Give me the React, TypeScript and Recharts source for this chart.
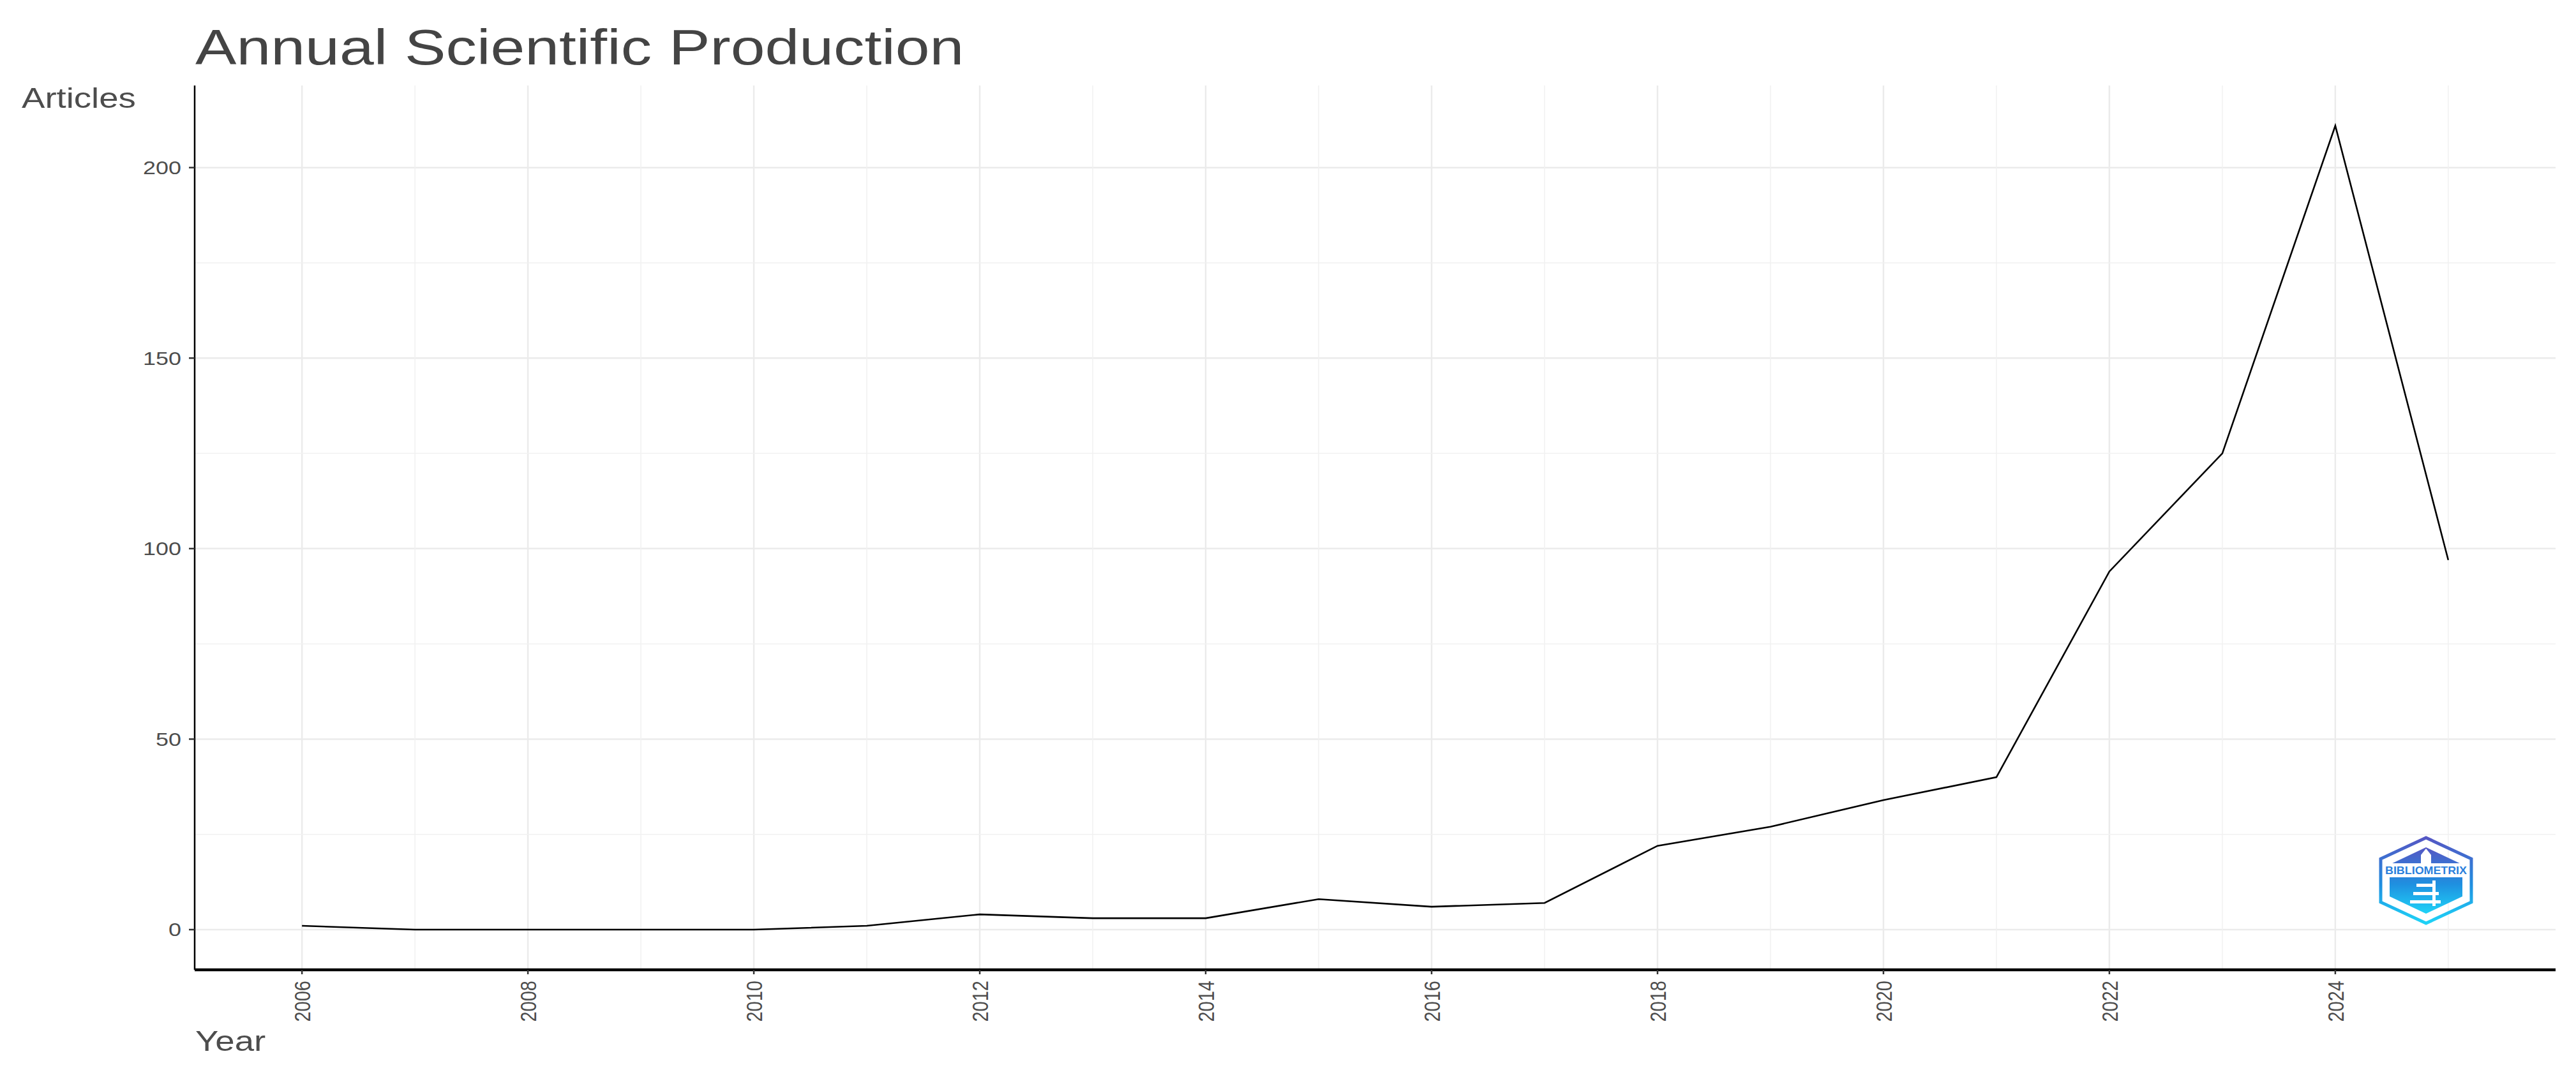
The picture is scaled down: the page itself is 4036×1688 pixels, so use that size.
import { LineChart, Line, XAxis, YAxis, CartesianGrid, ReferenceLine } from "recharts";

const years = [
  2006, 2007, 2008, 2009, 2010, 2011, 2012, 2013, 2014, 2015,
  2016, 2017, 2018, 2019, 2020, 2021, 2022, 2023, 2024, 2025,
];
const articles = [1, 0, 0, 0, 0, 1, 4, 3, 3, 8, 6, 7, 22, 27, 34, 40, 94, 125, 211, 97];

const yearTicks = [2006, 2008, 2010, 2012, 2014, 2016, 2018, 2020, 2022, 2024];
const yearMinor = [2007, 2009, 2011, 2013, 2015, 2017, 2019, 2021, 2023, 2025];
const articleTicks = [0, 50, 100, 150, 200];
const articleMinor = [25, 75, 125, 175];

const data = years.map((year, i) => ({ year, articles: articles[i] }));

const FONT = "'Liberation Sans', Arial, sans-serif";
const STRETCH = 1.24;

// grid lines only at the major ticks, placed through the axis scales
const scaleOf = (axis: any) => {
  const s = axis?.scale;
  if (typeof s === "function") return (v: number) => s(v);
  if (s && typeof s.map === "function") return (v: number) => s.map(v);
  return null;
};

const hGen = ({ yAxis }: any) => {
  const f = scaleOf(yAxis);
  return f ? articleTicks.map((v) => f(v)) : [];
};

const vGen = ({ xAxis }: any) => {
  const f = scaleOf(xAxis);
  return f ? yearTicks.map((v) => f(v)) : [];
};

const YTick = (props: any) => {
  const { x, y, payload } = props;
  return (
    <g transform={`translate(${x},${y}) scale(${STRETCH},1)`}>
      <text textAnchor="end" dy="0.355em" fontSize={29} fill="#4d4d4d" fontFamily={FONT}>
        {payload.value}
      </text>
    </g>
  );
};

const XTick = (props: any) => {
  const { x, y, payload } = props;
  return (
    <g transform={`translate(${x},${y}) scale(${STRETCH},1) rotate(-90)`}>
      <text textAnchor="end" dy="0.355em" fontSize={29} fill="#4d4d4d" fontFamily={FONT}>
        {payload.value}
      </text>
    </g>
  );
};

const Logo = () => {
  const cx = 3801;
  const top = 1313;
  const bot = 1447;
  const hw = 71;
  const outer = `${cx},${top} ${cx + hw},${top + 33} ${cx + hw},${bot - 33} ${cx},${bot} ${cx - hw},${bot - 33} ${cx - hw},${top + 33}`;
  const ihw = 57;
  const itop = top + 15;
  const ibot = bot - 15;
  const inner = `${cx},${itop} ${cx + ihw},${itop + 27} ${cx + ihw},${ibot - 27} ${cx},${ibot} ${cx - ihw},${ibot - 27} ${cx - ihw},${itop + 27}`;
  return (
    <g>
      <defs>
        <linearGradient id="logoGrad" x1="0" y1="0" x2="0" y2="1">
          <stop offset="0%" stopColor="#5557c4" />
          <stop offset="55%" stopColor="#1f8fe0" />
          <stop offset="100%" stopColor="#1fd3f7" />
        </linearGradient>
      </defs>
      <polygon points={outer} fill="none" stroke="url(#logoGrad)" strokeWidth={5} />
      <polygon points={inner} fill="url(#logoGrad)" />
      <rect x={cx - hw + 4} y={1353} width={2 * hw - 8} height={22} fill="#fff" />
      <text
        x={cx}
        y={1370}
        textAnchor="middle"
        fontSize={17}
        fontWeight="bold"
        fill="#2a7fdc"
        fontFamily={FONT}
        textLength={2 * hw - 14}
        lengthAdjust="spacingAndGlyphs"
      >
        BIBLIOMETRIX
      </text>
      <polygon points={`${cx},1330 ${cx + 8},1340 ${cx + 8},1353 ${cx - 8},1353 ${cx - 8},1340`} fill="#fff" />
      <rect x={cx - 15} y={1385} width={30} height={5} fill="#fff" />
      <rect x={cx - 20} y={1398} width={40} height={5} fill="#fff" />
      <rect x={cx - 25} y={1411} width={48} height={5} fill="#fff" />
      <rect x={cx + 10} y={1380} width={5} height={40} fill="#fff" />
    </g>
  );
};

export default function App() {
  return (
    <div style={{ position: "absolute", left: 0, top: 0, width: 4036, height: 1688, background: "#fff" }}>
      <LineChart
        width={4036}
        height={1688}
        data={data}
        margin={{ top: 134, right: 32, bottom: 68, left: 205 }}
      >
        <CartesianGrid
          stroke="#ebebeb"
          strokeWidth={2.5}
          horizontalCoordinatesGenerator={hGen}
          verticalCoordinatesGenerator={vGen}
        />
        {articleMinor.map((v) => (
          <ReferenceLine key={`ym${v}`} y={v} stroke="#f1f1f1" strokeWidth={1.5} />
        ))}
        {yearMinor.map((v) => (
          <ReferenceLine key={`xm${v}`} x={v} stroke="#f1f1f1" strokeWidth={1.5} />
        ))}
        <XAxis
          dataKey="year"
          type="number"
          domain={[2005.05, 2025.95]}
          allowDataOverflow
          ticks={yearTicks}
          interval={0}
          height={100}
          axisLine={{ stroke: "#000", strokeWidth: 4.5 }}
          tickLine={{ stroke: "#333", strokeWidth: 2.5 }}
          tickSize={7}
          tickMargin={10}
          tick={<XTick />}
        />
        <YAxis
          type="number"
          domain={[-10.55, 221.55]}
          allowDataOverflow
          ticks={articleTicks}
          interval={0}
          width={100}
          axisLine={{ stroke: "#000", strokeWidth: 2.5 }}
          tickLine={{ stroke: "#333", strokeWidth: 2.5 }}
          tickSize={9}
          tickMargin={12}
          tick={<YTick />}
        />
        <Line
          type="linear"
          dataKey="articles"
          stroke="#000"
          strokeWidth={2.6}
          dot={false}
          isAnimationActive={false}
        />
      </LineChart>
      <svg
        width={4036}
        height={1688}
        style={{ position: "absolute", left: 0, top: 0, pointerEvents: "none" }}
      >
        <g transform={`translate(306,101) scale(${STRETCH},1)`}>
          <text fontSize={78} fill="#444444" fontFamily={FONT}>
            Annual Scientific Production
          </text>
        </g>
        <g transform={`translate(34,169) scale(${STRETCH},1)`}>
          <text fontSize={44} fill="#4d4d4d" fontFamily={FONT}>
            Articles
          </text>
        </g>
        <g transform={`translate(306,1647) scale(${STRETCH},1)`}>
          <text fontSize={44} fill="#4d4d4d" fontFamily={FONT}>
            Year
          </text>
        </g>
        <Logo />
      </svg>
    </div>
  );
}
